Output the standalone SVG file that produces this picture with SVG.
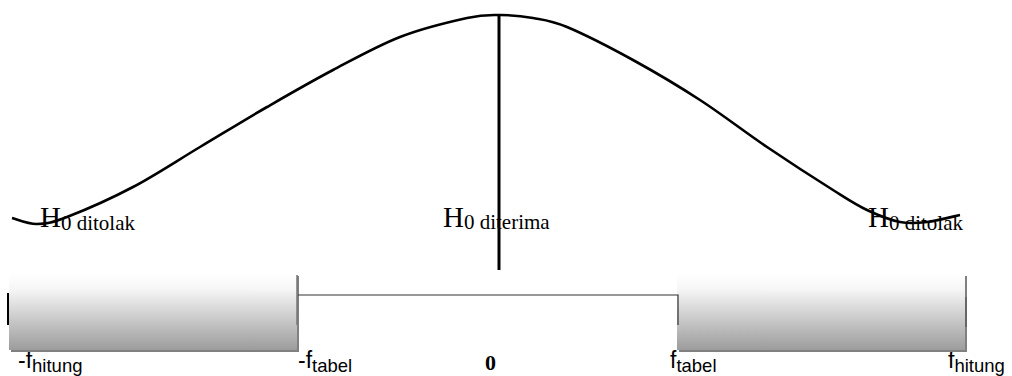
<svg xmlns="http://www.w3.org/2000/svg" width="1012" height="376" viewBox="0 0 1012 376">
<style>
.lbl{font-family:"Liberation Sans",Arial,sans-serif;fill:#000}
.big{font-size:23px}
.sub{font-size:18.5px}
.h{font-family:"Liberation Serif","Times New Roman",serif;fill:#000}
.hb{font-size:29px}
.hs{font-size:21px}
.shadow{fill:#808080}
.box{fill:url(#g)}
.curve{fill:none;stroke:#000;stroke-width:2.6}
</style>
<defs>
<linearGradient id="g" x1="0" y1="0" x2="0" y2="1">
<stop offset="0" stop-color="#ffffff"/>
<stop offset="0.2" stop-color="#f6f6f6"/>
<stop offset="1" stop-color="#9c9c9c"/>
</linearGradient>
</defs>
<rect width="1012" height="376" fill="#fff"/>

<g id="labels-axis">
<text class="lbl big" x="18" y="368">-f<tspan class="sub" dy="4">hitung</tspan></text>
<text class="lbl big" x="298" y="368">-f<tspan class="sub" dy="4">tabel</tspan></text>
<text x="485" y="370" style="font-family:'Liberation Serif','Times New Roman',serif;font-weight:bold;font-size:22px">0</text>
<text class="lbl big" x="670" y="368">f<tspan class="sub" dy="4">tabel</tspan></text>
<text class="lbl big" x="948" y="368">f<tspan class="sub" dy="4">hitung</tspan></text>
</g>

<g id="left-region">
<rect class="shadow" x="11" y="276" width="288" height="76"/>
<rect class="box" x="9" y="274" width="288" height="76"/>
<line x1="8" y1="293" x2="8" y2="325" stroke="#000" stroke-width="2"/>
<line x1="297" y1="275" x2="297" y2="325" stroke="#777" stroke-width="1.5"/>
</g>

<g id="right-region">
<rect class="shadow" x="679" y="276" width="288" height="76"/>
<rect class="box" x="677" y="274" width="288" height="76"/>
<line x1="966" y1="297" x2="966" y2="327" stroke="#666" stroke-width="2"/>
</g>

<g id="connectors">
<polyline points="298,295 678,295 678,325" fill="none" stroke="#333" stroke-width="1.2"/>
<line x1="499" y1="14" x2="499" y2="270" stroke="#000" stroke-width="3"/>
<path class="curve" d="M12,218 C16.2,219 27.8,224.2 37,224 C46.2,223.8 51,223.2 67,217 C83,210.8 110.8,198.7 133,187 C155.2,175.3 177.7,160.3 200,147 C222.3,133.7 244.8,119.8 267,107 C289.2,94.2 310.8,81.7 333,70 C355.2,58.3 377.7,45.7 400,37 C422.3,28.3 450.3,21.7 467,18 C483.7,14.3 489,15 500,15 C511,15 521.8,16 533,18 C544.2,20 550.3,20 567,27 C583.7,34 610.8,47.8 633,60 C655.2,72.2 677.7,85.5 700,100 C722.3,114.5 744.8,132 767,147 C789.2,162 816.3,179.5 833,190 C849.7,200.5 855.8,204.7 867,210 C878.2,215.3 890,220 900,222 C910,224 917,223.2 927,222 C937,220.8 954.5,216.2 960,215"/>
</g>

<g id="h0-left">
<text class="h hb" x="40" y="227">H<tspan class="hs" dy="3">0 ditolak</tspan></text>
</g>
<g id="h0-center">
<text class="h hb" x="443" y="227">H<tspan class="hs" dy="2">0 diterima</tspan></text>
</g>
<g id="h0-right">
<text class="h hb" x="868" y="227">H<tspan class="hs" dy="3">0 ditolak</tspan></text>
</g>
</svg>
